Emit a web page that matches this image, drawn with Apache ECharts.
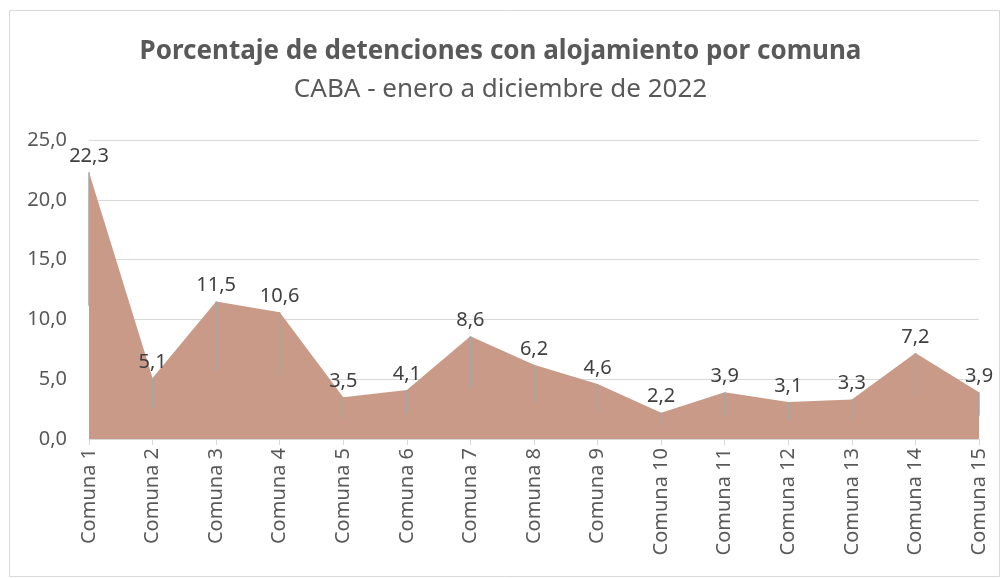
<!DOCTYPE html>
<html>
<head>
<meta charset="utf-8">
<script src="https://cdn.jsdelivr.net/npm/echarts@6/dist/echarts.min.js"></script>
<style>
  html, body { margin: 0; padding: 0; background: #fff; }
  #chart { width: 1001px; height: 578px; }
</style>
</head>
<body>
<div id="chart"></div>
<script>
const categories = ['Comuna 1', 'Comuna 2', 'Comuna 3', 'Comuna 4', 'Comuna 5', 'Comuna 6', 'Comuna 7',
  'Comuna 8', 'Comuna 9', 'Comuna 10', 'Comuna 11', 'Comuna 12', 'Comuna 13', 'Comuna 14', 'Comuna 15'];
const values = [22.3, 5.1, 11.5, 10.6, 3.5, 4.1, 8.6, 6.2, 4.6, 2.2, 3.9, 3.1, 3.3, 7.2, 3.9];
const yTicks = [0, 5, 10, 15, 20, 25];

const fmt = v => v.toFixed(1).replace('.', ',');
const textFont = 'Noto Sans';

const chart = echarts.init(document.getElementById('chart'));
chart.setOption({
  animation: false,
  backgroundColor: '#fff',
  title: [
    {
      text: 'Porcentaje de detenciones con alojamiento por comuna',
      left: 'center', top: 34,
      textStyle: { fontFamily: textFont, fontSize: 26, fontWeight: 'bold', color: '#595959' }
    },
    {
      text: 'CABA - enero a diciembre de 2022',
      left: 'center', top: 72,
      textStyle: { fontFamily: textFont, fontSize: 26, fontWeight: 'normal', color: '#595959' }
    }
  ],
  graphic: [{
    type: 'rect', left: 7, top: 8,
    shape: { width: 990, height: 566 },
    style: { fill: 'none', stroke: '#D9D9D9', lineWidth: 1 },
    silent: true
  }],
  grid: { left: 89, right: 22, top: 140, bottom: 139 },
  xAxis: {
    type: 'category',
    data: categories,
    boundaryGap: false,
    axisLine: { lineStyle: { color: '#D9D9D9', width: 1 } },
    axisTick: { show: true, alignWithLabel: true, length: 6, lineStyle: { color: '#D9D9D9' } },
    axisLabel: { rotate: 90, interval: 0, margin: 9, fontFamily: textFont, fontSize: 20, color: '#595959' }
  },
  yAxis: {
    type: 'value',
    min: 0, max: 25, interval: 5,
    axisLine: { show: false },
    axisTick: { show: false },
    splitLine: { lineStyle: { color: '#D9D9D9', width: 1 } },
    axisLabel: {
      fontFamily: textFont, fontSize: 20, color: '#595959', margin: 22,
      formatter: v => yTicks.includes(v) ? fmt(v) : ''
    }
  },
  series: [
    {
      type: 'line',
      data: values,
      showSymbol: true,
      symbolSize: 0,
      lineStyle: { width: 0 },
      itemStyle: { color: '#C99A87' },
      areaStyle: { color: '#C99A87', opacity: 1 },
      label: {
        show: true, position: 'top', distance: 6,
        fontFamily: textFont, fontSize: 20, color: '#404040',
        formatter: p => fmt(p.value)
      },
      z: 2
    },
    {
      // leader lines from each point down to half its value
      type: 'custom',
      data: values.map((v, i) => [i, v]),
      renderItem: (params, api) => {
        const i = api.value(0), v = api.value(1);
        const top = api.coord([i, v]);
        const bottom = api.coord([i, v / 2]);
        return {
          type: 'line',
          shape: { x1: top[0], y1: top[1], x2: bottom[0], y2: bottom[1] },
          style: { stroke: '#A6A6A6', lineWidth: 1.5 }
        };
      },
      z: 3,
      silent: true
    }
  ]
});
</script>
</body>
</html>
